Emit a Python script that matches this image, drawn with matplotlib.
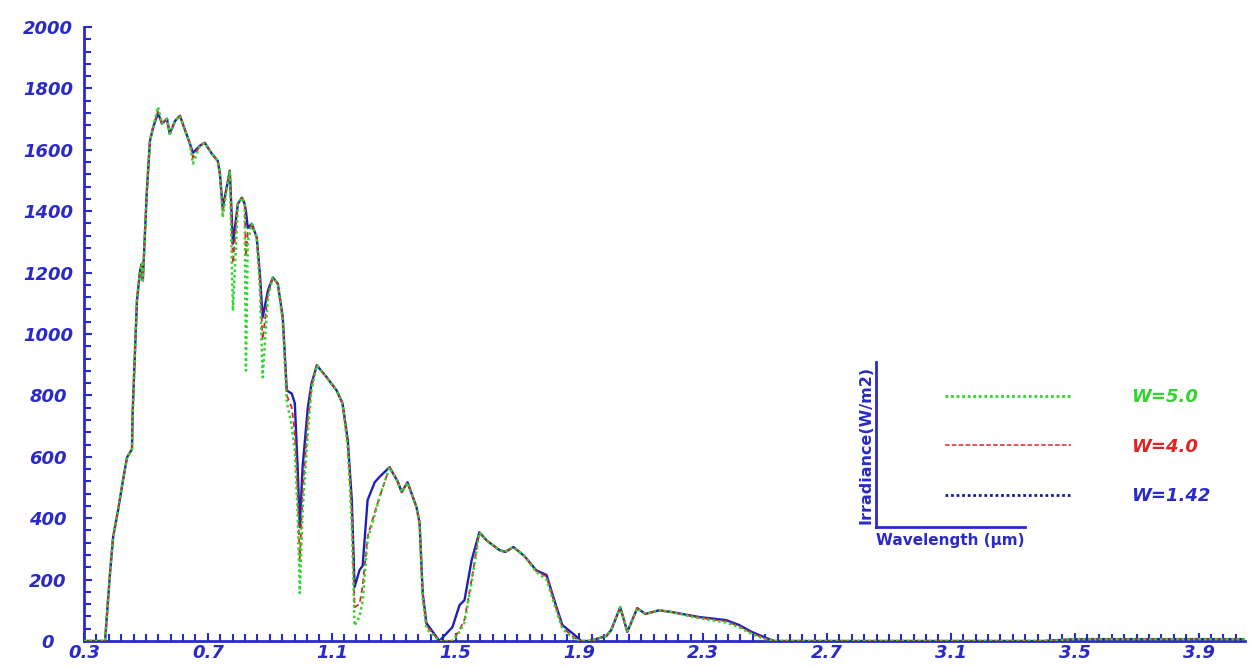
import numpy as np
import matplotlib.pyplot as plt
from matplotlib.lines import Line2D

# wavelength grid (um) and irradiance (W/m2)
wavelength = [0.300, 0.368, 0.384, 0.394, 0.410, 0.426, 0.439, 0.455, 0.457, 0.471,
              0.481, 0.487, 0.490, 0.503, 0.513, 0.523, 0.539, 0.552, 0.568, 0.577,
              0.594, 0.610, 0.619, 0.642, 0.652, 0.674, 0.690, 0.713, 0.732, 0.739,
              0.748, 0.765, 0.771, 0.781, 0.797, 0.810, 0.819, 0.823, 0.829, 0.842,
              0.858, 0.868, 0.877, 0.894, 0.910, 0.926, 0.942, 0.955, 0.971, 0.981,
              0.990, 0.997, 1.006, 1.023, 1.035, 1.052, 1.084, 1.116, 1.135, 1.152,
              1.165, 1.174, 1.190, 1.200, 1.216, 1.239, 1.255, 1.287, 1.313, 1.326,
              1.345, 1.374, 1.384, 1.394, 1.406, 1.448, 1.490, 1.513, 1.529, 1.552,
              1.577, 1.600, 1.642, 1.661, 1.687, 1.723, 1.761, 1.794, 1.819, 1.845,
              1.884, 1.906, 1.932, 1.987, 2.003, 2.032, 2.055, 2.087, 2.113, 2.158,
              2.200, 2.287, 2.374, 2.416, 2.458, 2.503, 2.529, 3.400, 3.500, 4.050]

w142 = [0, 0, 221, 338, 426, 524, 598, 625, 740, 1109,
        1206, 1229, 1174, 1466, 1629, 1672, 1720, 1685, 1701, 1652,
        1694, 1711, 1685, 1620, 1590, 1613, 1623, 1587, 1564, 1522,
        1411, 1499, 1532, 1294, 1424, 1444, 1424, 1400, 1346, 1359,
        1314, 1197, 1054, 1141, 1184, 1164, 1054, 816, 806, 774,
        566, 371, 566, 761, 839, 898, 859, 816, 774, 654,
        459, 176, 231, 245, 459, 517, 535, 566, 520, 485,
        517, 436, 384, 156, 58, 0, 45, 117, 133, 263,
        354, 328, 296, 290, 306, 276, 230, 215, 133, 52,
        20, 0, 0, 16, 36, 110, 30, 107, 88, 100,
        94, 78, 68, 52, 29, 10, 0, 0, 6, 6]

w40 = [0, 0, 221, 338, 426, 524, 598, 625, 740, 1109,
       1206, 1229, 1174, 1466, 1629, 1672, 1725, 1685, 1701, 1652,
       1694, 1711, 1685, 1620, 1575, 1613, 1623, 1587, 1564, 1522,
       1395, 1499, 1532, 1230, 1424, 1444, 1424, 1250, 1330, 1359,
       1314, 1180, 980, 1130, 1184, 1164, 1050, 800, 760, 680,
       480, 260, 480, 720, 830, 898, 859, 816, 774, 640,
       420, 110, 120, 180, 340, 420, 470, 566, 520, 485,
       517, 436, 384, 150, 50, 0, 0, 36, 70, 200,
       354, 328, 296, 290, 306, 276, 228, 210, 128, 45,
       10, 0, 0, 16, 36, 110, 30, 107, 88, 100,
       94, 76, 64, 48, 25, 7, 0, 0, 6, 6]

w50 = [0, 0, 221, 338, 426, 524, 598, 625, 740, 1109,
       1206, 1229, 1174, 1466, 1629, 1672, 1740, 1685, 1701, 1652,
       1694, 1711, 1685, 1620, 1555, 1613, 1623, 1587, 1564, 1522,
       1380, 1499, 1532, 1076, 1424, 1444, 1424, 881, 1300, 1359,
       1314, 1150, 859, 1120, 1184, 1164, 1040, 780, 700, 620,
       420, 156, 420, 680, 820, 898, 859, 816, 774, 630,
       380, 50, 80, 130, 330, 410, 470, 566, 520, 485,
       517, 436, 384, 140, 40, 0, 0, 30, 60, 190,
       354, 328, 296, 290, 306, 276, 225, 200, 120, 40,
       5, 0, 0, 16, 36, 110, 30, 107, 88, 100,
       94, 74, 60, 45, 22, 5, 0, 0, 6, 6]

xticks = [0.3, 0.7, 1.1, 1.5, 1.9, 2.3, 2.7, 3.1, 3.5, 3.9]
yticks = [0, 200, 400, 600, 800, 1000, 1200, 1400, 1600, 1800, 2000]

BLUE = '#2a2ac8'
GREEN = '#2ed62e'
RED = '#e02424'
NAVY = '#1a1a9a'

fig = plt.figure(figsize=(12.5, 6.67), dpi=100)
ax = fig.add_axes([0.0672, 0.039, 0.9288, 0.9205])

ax.plot(wavelength, w142, color='#2020b8', lw=1.7, zorder=2)
ax.plot(wavelength, w40, color=RED, lw=1.3, ls=(0, (3, 2)), zorder=3)
ax.plot(wavelength, w50, color=GREEN, lw=1.8, ls=(0, (1, 1.2)), zorder=4)

ax.set_xlim(0.3, 4.05)
ax.set_ylim(0, 2000)
for s in ['top', 'right']:
    ax.spines[s].set_visible(False)
for s in ['left', 'bottom']:
    ax.spines[s].set_color(BLUE)
    ax.spines[s].set_linewidth(2)

ax.set_xticks(xticks)
ax.set_xticks(np.arange(0.3, 4.05, 0.04), minor=True)
ax.set_yticks(yticks)
ax.set_yticks(np.arange(0, 2001, 40), minor=True)
ax.tick_params(which='both', direction='in', color=BLUE, width=1.5)
ax.tick_params(which='major', length=6)
ax.tick_params(which='minor', length=5)
ax.tick_params(axis='x', pad=2)
ax.tick_params(axis='y', pad=26)

tick_font = dict(family='DejaVu Sans', weight='bold', style='italic', size=13)
ax.set_xticklabels([f'{v:.1f}' for v in xticks], color=BLUE, **tick_font)
ax.set_yticklabels([str(v) for v in yticks], color=BLUE, **tick_font)
for lab in ax.get_yticklabels():
    lab.set_horizontalalignment('center')

# small key axes with the axis names
kax = fig.add_axes([0.7008, 0.2099, 0.119, 0.2474])
kax.set_xticks([])
kax.set_yticks([])
kax.patch.set_alpha(0)
for s in ['top', 'right']:
    kax.spines[s].set_visible(False)
for s in ['left', 'bottom']:
    kax.spines[s].set_color(BLUE)
    kax.spines[s].set_linewidth(2)
kax.set_ylabel('Irradiance(W/m2)', color=BLUE, fontsize=11.5, weight='bold', labelpad=2)
kax.set_xlabel('Wavelength (\u00b5m)', color=BLUE, fontsize=11, weight='bold', labelpad=4)

handles = [Line2D([], [], color=GREEN, lw=2, ls=(0, (1, 1))),
           Line2D([], [], color=RED, lw=1.1, ls=(0, (3, 1.5))),
           Line2D([], [], color=NAVY, lw=2, ls=(0, (1, 1)))]
leg = fig.legend(handles, ['W=5.0', 'W=4.0', 'W=1.42'], loc='upper left',
                 bbox_to_anchor=(945 / 1250, 1 - 388 / 667), frameon=False,
                 handlelength=7.0, handletextpad=3.3, labelspacing=1.75,
                 borderpad=0, borderaxespad=0,
                 prop=dict(family='DejaVu Sans', weight='bold', style='italic', size=13))
for txt, c in zip(leg.get_texts(), [GREEN, RED, BLUE]):
    txt.set_color(c)

fig.savefig('out.png', dpi=100, facecolor='white')
